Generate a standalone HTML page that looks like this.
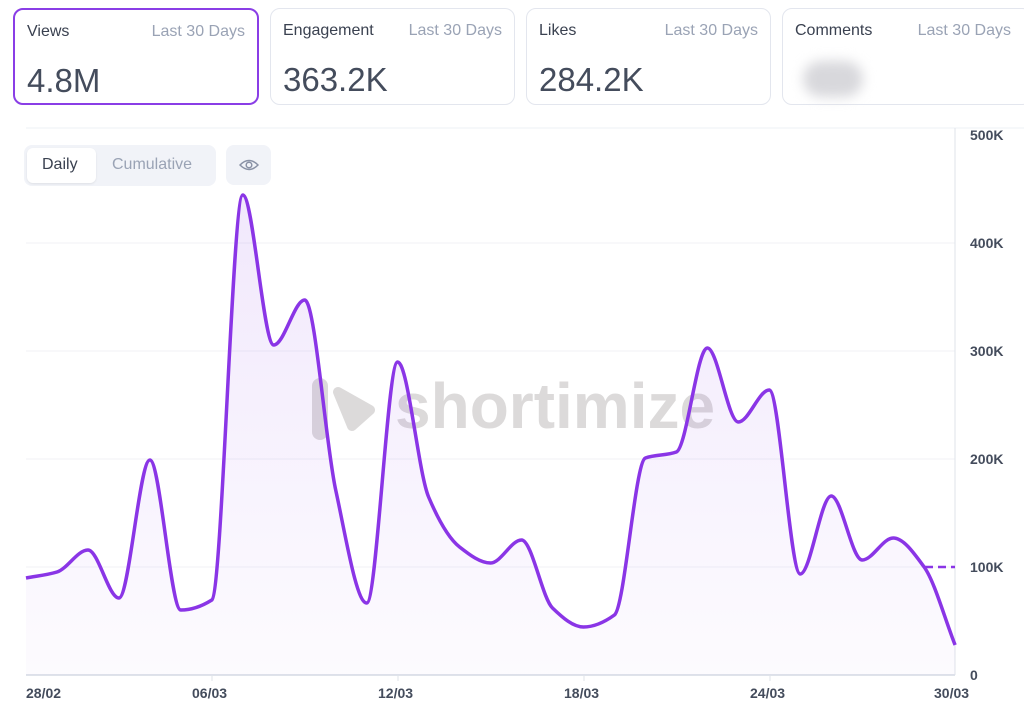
<!DOCTYPE html>
<html><head><meta charset="utf-8"><style>
body{margin:0;width:1024px;height:712px;background:#fff;font-family:"Liberation Sans",sans-serif;overflow:hidden;position:relative}
.card{position:absolute;top:8px;height:97px;border:1px solid #e3e6ee;border-radius:10px;box-sizing:border-box;background:#fff}
.card .t{position:absolute;left:12px;top:13px;font-size:16px;color:#3a4150}
.card .r{position:absolute;right:12px;top:13px;font-size:16px;color:#9aa3b5}
.card .v{position:absolute;left:12px;top:52px;font-size:33px;color:#444c5c}
.sel{border:2px solid #8a3ee6}
.ax{position:absolute;font-size:14px;font-weight:bold;color:#444c5c}
</style></head><body>
<div class="card sel" style="left:13px;width:246px"><div class="t">Views</div><div class="r">Last 30 Days</div><div class="v">4.8M</div></div>
<div class="card" style="left:270px;width:245px"><div class="t">Engagement</div><div class="r">Last 30 Days</div><div class="v">363.2K</div></div>
<div class="card" style="left:526px;width:245px"><div class="t">Likes</div><div class="r">Last 30 Days</div><div class="v">284.2K</div></div>
<div class="card" style="left:782px;width:250px"><div class="t">Comments</div><div class="r" style="right:20px">Last 30 Days</div><div style="position:absolute;left:20px;top:52px;width:60px;height:36px;border-radius:18px;background:#d8d8dc;filter:blur(6px)"></div></div>
<svg width="1024" height="712" style="position:absolute;left:0;top:0">
<defs><linearGradient id="g" x1="0" y1="0" x2="0" y2="1"><stop offset="0" stop-color="#8a3ee6" stop-opacity="0.12"/><stop offset="1" stop-color="#8a3ee6" stop-opacity="0.02"/></linearGradient></defs>
<line x1="26" y1="128" x2="1024" y2="128" stroke="#eef0f4"/>
<g stroke="#f0f2f6" stroke-width="1"><line x1="26" x2="955" y1="243" y2="243"/><line x1="26" x2="955" y1="351" y2="351"/><line x1="26" x2="955" y1="459" y2="459"/><line x1="26" x2="955" y1="567" y2="567"/></g>
<line x1="955" y1="128" x2="955" y2="675" stroke="#dfe3ea"/>
<line x1="26" y1="675" x2="955" y2="675" stroke="#dfe3ea" stroke-width="2"/>
<g stroke="#dfe3ea"><line x1="212" x2="212" y1="675" y2="681"/><line x1="398" x2="398" y1="675" y2="681"/><line x1="584" x2="584" y1="675" y2="681"/><line x1="770" x2="770" y1="675" y2="681"/></g>
<g fill="#d9d7d7" opacity="0.9"><rect x="312" y="378" width="16" height="62" rx="8"/><path d="M338 392 L370 410 L352 426 Z" stroke="#d9d7d7" stroke-width="10" stroke-linejoin="round"/></g>
<text x="395" y="428" font-family="Liberation Sans,sans-serif" font-weight="bold" font-size="64" fill="#d9d7d7" opacity="0.9">shortimize</text>
<path id="area" fill="url(#g)"/>
<path id="line" fill="none" stroke="#8a35e6" stroke-width="3.5" stroke-linejoin="round"/>
<line x1="925" y1="567" x2="955" y2="567" stroke="#8a35e6" stroke-width="2.5" stroke-dasharray="8,5"/>
</svg>
<div style="position:absolute;left:24px;top:145px;width:192px;height:41px;background:#f1f3f8;border-radius:8px"></div>
<div style="position:absolute;left:27px;top:148px;width:69px;height:35px;background:#fff;border-radius:6px;box-shadow:0 1px 2px rgba(0,0,0,.08)"></div>
<div style="position:absolute;left:42px;top:156px;font-size:16px;color:#3a4150">Daily</div>
<div style="position:absolute;left:112px;top:156px;font-size:16px;color:#9aa3b5">Cumulative</div>
<div style="position:absolute;left:226px;top:145px;width:45px;height:40px;background:#f1f3f8;border-radius:8px"></div>
<svg style="position:absolute;left:239px;top:157px" width="20" height="16"><path d="M1 8 Q10 -1 19 8 Q10 17 1 8Z" fill="none" stroke="#8a92a6" stroke-width="1.5"/><circle cx="10" cy="8" r="2.8" fill="none" stroke="#8a92a6" stroke-width="1.5"/></svg>
<div class="ax" style="left:970px;top:127px">500K</div>
<div class="ax" style="left:970px;top:235px">400K</div>
<div class="ax" style="left:970px;top:343px">300K</div>
<div class="ax" style="left:970px;top:451px">200K</div>
<div class="ax" style="left:970px;top:559px">100K</div>
<div class="ax" style="left:970px;top:667px">0</div>
<div class="ax" style="left:26px;top:685px">28/02</div>
<div class="ax" style="left:192px;top:685px">06/03</div>
<div class="ax" style="left:378px;top:685px">12/03</div>
<div class="ax" style="left:564px;top:685px">18/03</div>
<div class="ax" style="left:750px;top:685px">24/03</div>
<div class="ax" style="left:934px;top:685px">30/03</div>
<script>
var ys=[578,572,550,598,460,610,600,195,345,300,490,603,362,497,547,563,540,608,627,615,458,452,348,422,390,574,496,560,538,567,645];
var n=ys.length,h=30.97,xs=ys.map(function(y,i){return 26+i*h});
var dl=[],m=[];
for(var i=0;i<n-1;i++)dl.push((ys[i+1]-ys[i])/h);
m[0]=dl[0];m[n-1]=dl[n-2];
for(var i=1;i<n-1;i++){ if(dl[i-1]*dl[i]<=0)m[i]=0; else m[i]=2/(1/dl[i-1]+1/dl[i]); }
var d="M"+xs[0]+","+ys[0];
for(var i=0;i<n-1;i++){
d+=" C"+(xs[i]+h/3)+","+(ys[i]+m[i]*h/3)+" "+(xs[i+1]-h/3)+","+(ys[i+1]-m[i+1]*h/3)+" "+xs[i+1]+","+ys[i+1];}
document.getElementById("line").setAttribute("d",d);
document.getElementById("area").setAttribute("d",d+" L955,675 L26,675Z");
</script>
</body></html>
